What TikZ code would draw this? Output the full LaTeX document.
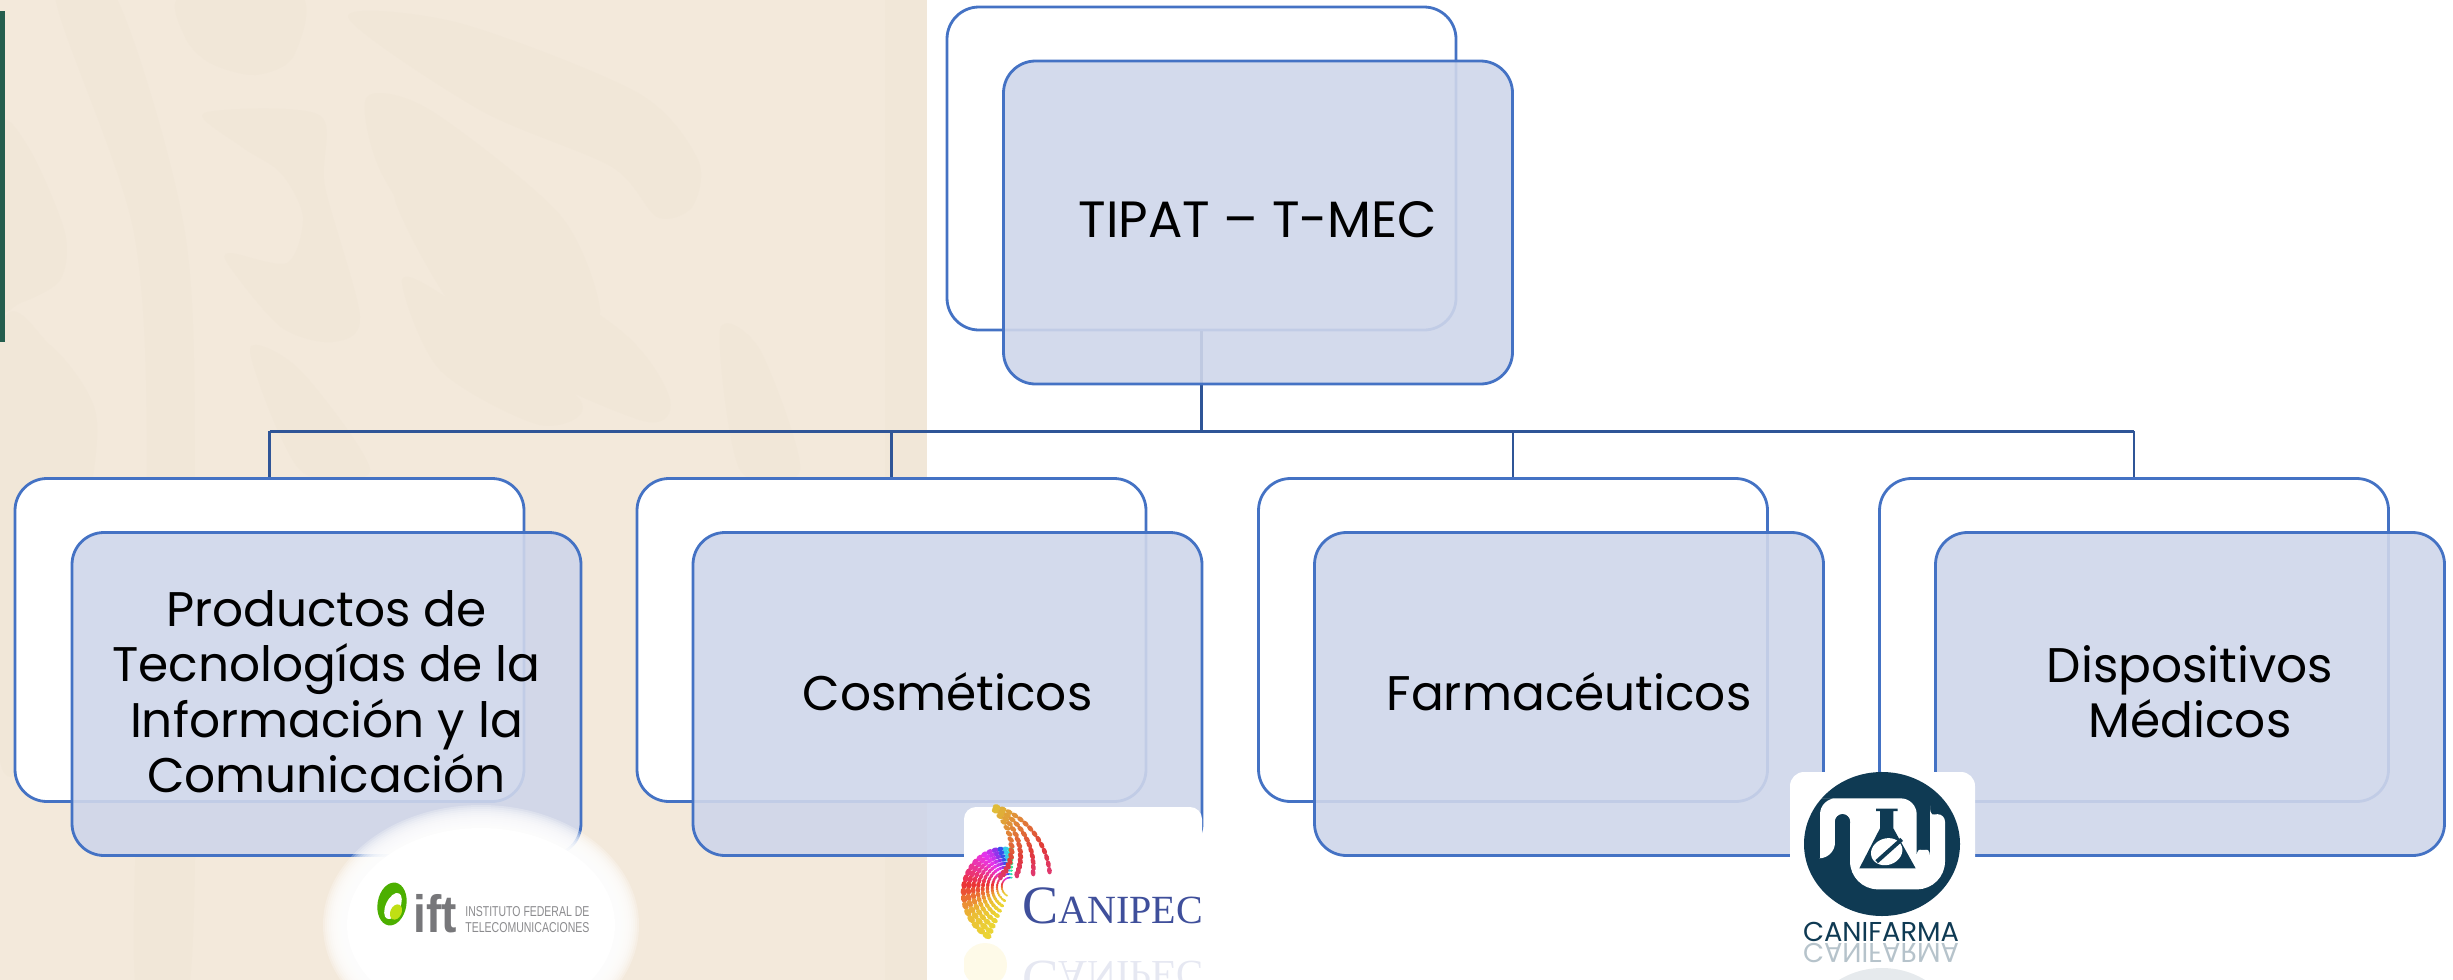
\documentclass[tikz,border=0pt]{standalone}
\usepackage{graphicx}
\usepackage{fontspec}
\setmainfont{Poppins}
\newfontfamily\canserif{Liberation Serif}
\newfontfamily\iftsans{Liberation Sans}
\definecolor{beige}{HTML}{F3E9DB}
\definecolor{wmark}{HTML}{F1E7D8}
\definecolor{edgeblue}{HTML}{4472C4}
\definecolor{connblue}{HTML}{2F5597}
\definecolor{frontfill}{HTML}{CFD6EA}
\definecolor{barcolor}{HTML}{245E4E}
\definecolor{farmadark}{HTML}{0F3A53}
\definecolor{canblue}{HTML}{3F4F9B}
\definecolor{iftgray}{HTML}{77777A}
\tikzset{
  x=0.5pt,y=-0.5pt,
  backbox/.style={draw=edgeblue,line width=1.4pt,fill=white,rounded corners=16pt,minimum width=254.5pt,minimum height=161.5pt,inner sep=0pt},
  frontbox/.style={draw=edgeblue,line width=1.4pt,fill=frontfill,fill opacity=.9,draw opacity=1,rounded corners=16pt,minimum width=254.5pt,minimum height=161.5pt,inner sep=0pt},
  boxtext/.style={inner sep=0pt,font=\fontsize{24.3}{27.75}\selectfont,align=center,text=black,yshift=1.2pt},
  conn/.style={draw=connblue,line width=1.1pt},
  busline/.style={draw=connblue,line width=1.5pt},
  wm/.style={fill=wmark},
}
\begin{document}
\begin{tikzpicture}
\useasboundingbox (0,0) rectangle (2453,980);
% background
\fill[white] (0,0) rectangle (2453,980);
\fill[beige] (0,0) rectangle (927,980);
\fill[wmark] (885,0) rectangle (927,980);
\fill[wm] plot[smooth cycle] coordinates {(55,-5)(115,-5)(185,233)(195,500)(190,980)(135,980)(147,500)(134,233)};
\fill[wm] plot[smooth cycle] coordinates {(182,-5)(300,-5)(293,57)(255,75)(210,63)(185,37)};
\fill[wm] plot[smooth cycle] coordinates {(204,113)(319,115)(325,187)(360,317)(332,342)(281,327)(230,267)(230,253)(287,263)(303,217)(281,173)(242,147)};
\fill[wm] plot[smooth cycle] coordinates {(348,17)(459,23)(638,93)(698,160)(692,207)(657,217)(612,167)(480,110)};
\fill[wm] plot[smooth cycle] coordinates {(367,97)(430,110)(560,215)(600,310)(567,320)(440,250)(380,170)};
\fill[wm] plot[smooth cycle] coordinates {(395,200)(450,220)(620,330)(670,400)(640,420)(480,340)};
\fill[wm] plot[smooth cycle] coordinates {(402,280)(450,300)(580,400)(540,425)(440,370)};
\fill[wm] plot[smooth cycle] coordinates {(0,127)(30,150)(65,233)(60,280)(20,303)(0,300)};
\fill[wm] plot[smooth cycle] coordinates {(0,337)(50,345)(95,410)(90,500)(60,700)(0,760)};
\fill[wm] plot[smooth cycle] coordinates {(250,350)(300,370)(370,470)(300,470)};
\fill[wm] plot[smooth cycle] coordinates {(720,330)(760,350)(800,470)(740,470)};
\fill[barcolor] (0,11) rectangle (5,342);
% back boxes
\node[backbox] (rootback) at (1201.5,168.5) {};
\node[backbox] (c1back) at (269.5,640) {};
\node[backbox] (c2back) at (891.5,640) {};
\node[backbox] (c3back) at (1513,640) {};
\node[backbox] (c4back) at (2134,640) {};
% connectors
\coordinate (bus) at (1201.5,431);
\draw[conn,line width=1.5pt] (rootback.south) -- (bus);
\draw[busline] (c1back.north |- bus) -- (c4back.north |- bus);
\draw[conn] (c1back.north |- bus) -- (c1back.north);
\draw[conn] (c2back.north |- bus) -- (c2back.north);
\draw[conn] (c3back.north |- bus) -- (c3back.north);
\draw[conn] (c4back.north |- bus) -- (c4back.north);
% front boxes
\node[frontbox] (root) at (1258,222.5) {};
\node[frontbox] (c1) at (326.5,694) {};
\node[frontbox] (c2) at (947.5,694) {};
\node[frontbox] (c3) at (1569,694) {};
\node[frontbox] (c4) at (2190,694) {};
\node[boxtext,font=\fontsize{25.5}{27.75}\selectfont] (roott) at (root) {TIPAT -- T-MEC};
\node[boxtext] (c1t) at (c1) {Productos de\\Tecnologías de la\\Información y la\\Comunicación};
\node[boxtext] (c2t) at (c2) {Cosméticos};
\node[boxtext] (c3t) at (c3) {Farmacéuticos};
\node[boxtext] (c4t) at (c4) {Dispositivos\\Médicos};
% IFT logo
\foreach \k in {0,...,11}{
  \fill[white,opacity=.25] (481,925) ellipse[x radius={(158-2*\k)*.5pt},y radius={(120-2*\k)*.5pt}];
}
\fill[white] (481,925) ellipse[x radius=67pt,y radius=48.5pt];
\fill[green!55!black!70!yellow] (392,904) ellipse[x radius=7.2pt,y radius=10.8pt,rotate=-10];
\fill[white] (393,906) ellipse[x radius=3.6pt,y radius=7pt,rotate=-25];
\fill[yellow!75!green] (396,912) ellipse[x radius=2.8pt,y radius=4pt,rotate=-25];
\node[inner sep=0pt,anchor=west,text=iftgray] (ifttxt) at (413,914) {\scalebox{.92}[1.05]{\iftsans\bfseries\fontsize{25}{25}\selectfont ift}};
\node[inner sep=0pt,anchor=west,text=iftgray!85,font=\iftsans\fontsize{7}{8}\selectfont] (iftl1) at (465,912) {\resizebox{62pt}{5pt}{INSTITUTO FEDERAL DE}};
\node[inner sep=0pt,anchor=west,text=iftgray!85,font=\iftsans\fontsize{7}{8}\selectfont] (iftl2) at (465,928) {\resizebox{62pt}{5pt}{TELECOMUNICACIONES}};
% CANIPEC logo
\fill[white] (964,807) [rounded corners=6pt] rectangle (1202,942);
\foreach \a in {92,100,...,244}{
  \foreach \j in {0,...,8}{
    \pgfmathsetmacro\fa{(35+(\a-90)*.135)/53}
    \pgfmathsetmacro\r{(11+\j*5.3)*\fa}
    \pgfmathsetmacro\hu{\a<=118?140+(\a-90)*5:(\a<=215?mod(280+(\a-118)*1.28,360):mod(404+(\a-215)*.3,360))}
    \definecolor{dotc}{Hsb}{\hu,0.78,0.92}
    \pgfmathsetmacro\dx{1011.7+\r*cos(\a)}
    \pgfmathsetmacro\dy{885-\r*sin(\a)}
    \pgfmathsetmacro\rr{0.4+\r*.035}
    \fill[dotc] (\dx,\dy) ellipse[x radius=\rr pt,y radius=.7*\rr pt,rotate=\a+90];
  }
}
\foreach \a in {72,67,...,7}{
  \foreach \j in {0,...,3}{
    \pgfmathsetmacro\r{77-\j*(1.5+(72-\a)*.23)}
    \pgfmathsetmacro\hu{mod(340+(\a-5)*1.0+360,360)}
    \definecolor{dotc}{Hsb}{\hu,0.75,0.88}
    \pgfmathsetmacro\dxb{973+\r*cos(\a)}
    \pgfmathsetmacro\dyb{880-\r*sin(\a)}
    \fill[dotc] (\dxb,\dyb) ellipse[x radius=1.9pt,y radius=1.2pt,rotate=\a+90];
  }
}
\node[inner sep=0pt,anchor=base west,text=canblue] (canipec) at (1022,923) {\canserif\fontsize{27}{27}\selectfont C\fontsize{20}{20}\selectfont ANIPEC};
\begin{scope}
\clip (964,942) rectangle (1202,980);
\node[inner sep=0pt,anchor=base west,text=canblue,yscale=-1,opacity=.13] (canipecr) at (1022,961) {\canserif\fontsize{27}{27}\selectfont C\fontsize{20}{20}\selectfont ANIPEC};
\fill[yellow!70!orange,opacity=.09] (985,965) ellipse[x radius=11pt,y radius=11pt];
\end{scope}
% CANIFARMA logo
\fill[white] (1790,772) [rounded corners=7pt] rectangle (1975,942);
\fill[farmadark] (1882,844) ellipse[x radius=39pt,y radius=36pt];
\begin{scope}[shift={(1750,750)},x=.16667pt,y=-.16667pt]
\fill[white,rounded corners=8pt] (235,145) -- (500,145) -- (500,280) arc[start angle=180,end angle=360,x radius=3.33pt,y radius=3.33pt] -- (540,215) [rounded corners=0pt] arc[start angle=180,end angle=0,radius=3.75pt] [rounded corners=14pt] -- (585,418) -- (300,418) [rounded corners=0pt] -- (300,215) arc[start angle=0,end angle=180,radius=3.75pt] [rounded corners=8pt] -- (255,325) [rounded corners=0pt] -- (210,325) [rounded corners=8pt]-- (210,145) -- cycle;
\fill[farmadark] (255,215) arc[start angle=180,end angle=0,radius=3.75pt] -- (298,330) -- (255,310) -- cycle;
\fill[farmadark] (378,176) -- (443,176) -- (443,183) -- (430,183) -- (430,235) -- (497,355) -- (328,355) -- (390,235) -- (390,183) -- (378,183) -- cycle;
\fill[white] (410,305) ellipse[x radius=8pt,y radius=6.6pt,rotate=20];
\draw[farmadark,line width=2pt] (380,335) -- (455,268);
\end{scope}
\node[inner sep=0pt,anchor=base,text=farmadark] (canifarma) at (1881,941) {\resizebox{78pt}{!}{\fontsize{13}{13}\selectfont CANIFARMA}};
\begin{scope}
\clip (1790,942) rectangle (1975,980);
\node[inner sep=0pt,anchor=base,text=farmadark,yscale=-1,opacity=.3] (canifarmar) at (1881,943) {\resizebox{78pt}{!}{\fontsize{13}{13}\selectfont CANIFARMA}};
\fill[farmadark,opacity=.1] (1882,1040) ellipse[x radius=39pt,y radius=36pt];
\end{scope}
\end{tikzpicture}
\end{document}
